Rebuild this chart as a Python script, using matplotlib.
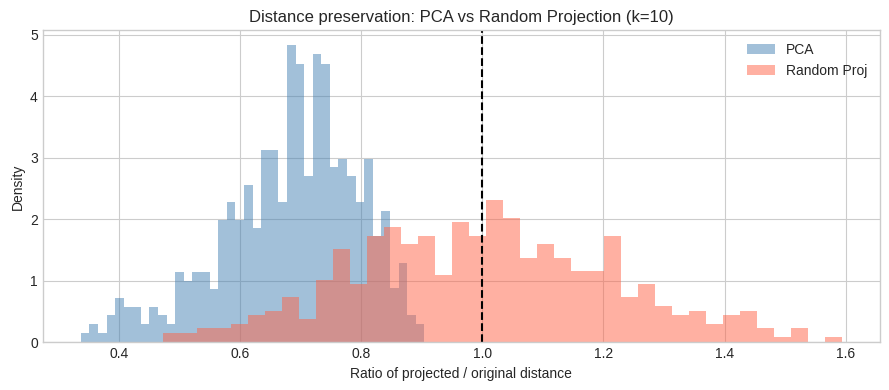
import numpy as np
import matplotlib
matplotlib.use("Agg")
import matplotlib.pyplot as plt

plt.style.use("seaborn-v0_8-whitegrid")
plt.rcParams["font.family"] = ["Liberation Sans", "DejaVu Sans"]

# Histogram densities (40 bins each)
pca_start, pca_end = 0.3368, 0.9043
pca_density = [
    0.15, 0.30, 0.15, 0.44, 0.72, 0.57, 0.57, 0.30, 0.57, 0.44,
    0.30, 1.14, 1.00, 1.14, 1.14, 0.87, 1.99, 2.28, 1.99, 2.55,
    1.86, 3.12, 3.12, 2.28, 4.83, 4.53, 2.70, 4.68, 4.53, 2.85,
    2.98, 2.70, 2.28, 2.98, 1.73, 2.13, 0.88, 1.29, 0.44, 0.30,
]

rp_start, rp_end = 0.4732, 1.5940
rp_density = [
    0.15, 0.15, 0.23, 0.23, 0.30, 0.44, 0.51, 0.74, 0.38, 1.01,
    1.51, 0.95, 1.73, 1.87, 1.60, 1.73, 1.09, 1.95, 1.73, 2.31,
    2.02, 1.37, 1.60, 1.37, 1.16, 1.16, 1.73, 0.74, 0.95, 0.59,
    0.44, 0.51, 0.30, 0.44, 0.51, 0.23, 0.09, 0.23, 0.00, 0.09,
]

labels = ["PCA", "Random Proj"]
title = "Distance preservation: PCA vs Random Projection (k=10)"
xlabel = "Ratio of projected / original distance"
ylabel = "Density"

pca_edges = np.linspace(pca_start, pca_end, len(pca_density) + 1)
rp_edges = np.linspace(rp_start, rp_end, len(rp_density) + 1)

fig = plt.figure(figsize=(8.89, 3.9), dpi=100)
ax = fig.add_axes([0.048, 0.1223, 0.942, 0.7997])

ax.hist(pca_edges[:-1], bins=pca_edges, weights=pca_density,
        color="steelblue", alpha=0.5, label=labels[0])
ax.hist(rp_edges[:-1], bins=rp_edges, weights=rp_density,
        color="tomato", alpha=0.5, label=labels[1])
ax.axvline(1.0, color="black", linestyle="--", linewidth=1.5)

ax.set_title(title, fontsize=12)
ax.set_xlabel(xlabel)
ax.set_ylabel(ylabel)
ax.legend(loc="upper right")

fig.savefig("out.png", dpi=100)
